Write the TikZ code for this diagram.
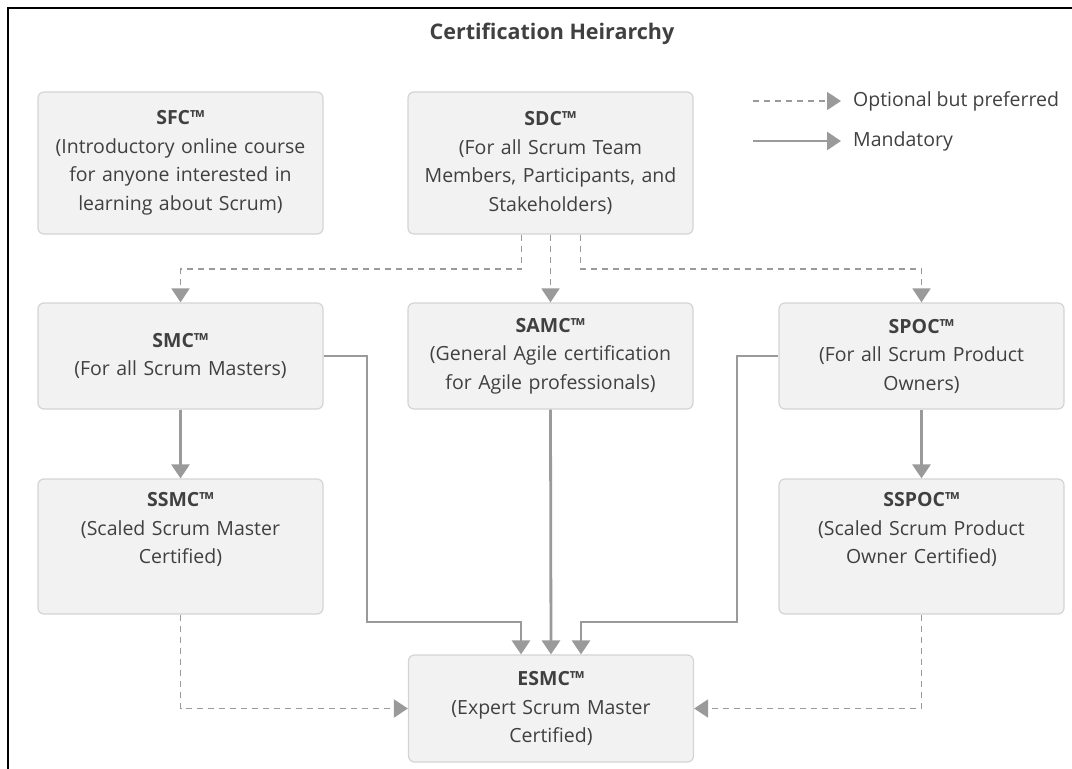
\documentclass[tikz,border=0pt]{standalone}
\usepackage{fontspec}
\setmainfont{Open Sans}
\usetikzlibrary{arrows.meta}
\definecolor{boxfill}{HTML}{F2F2F2}
\definecolor{boxline}{HTML}{D4D4D4}
\definecolor{linkgray}{HTML}{9A9A9A}
\definecolor{textgray}{HTML}{404040}

\begin{document}
\begin{tikzpicture}[x=1pt, y=-1pt]
    \tikzstyle{cert_style}=[rectangle, draw=boxline, line width=1.2pt, fill=boxfill, rounded corners=6pt, minimum width=285pt, text width=278pt, align=center, text=textgray, font=\fontsize{19.5}{28.5}\selectfont]
    \tikzstyle{must_style}=[draw=linkgray, line width=2.8pt, -{Triangle[width=18pt, length=14pt]}]
    \tikzstyle{opt_style}=[draw=linkgray, line width=1.8pt, dash pattern=on 6pt off 5pt, -{Triangle[width=18pt, length=14pt]}]
    \tikzstyle{legend_style}=[anchor=west, inner sep=0pt, text=textgray, font=\fontsize{19.5}{22}\selectfont]

    \useasboundingbox (0,0) rectangle (1072,769);
    \draw[line width=2pt] (8,769) -- (8,8) -- (1072,8);

    % title
    \node at (552, 34) [text=textgray, font=\bfseries\fontsize{21.5}{24}\selectfont] (title) {Certification Heirarchy};

    % legend
    \coordinate (opt_start) at (753, 101);
    \coordinate (opt_end) at (841, 101);
    \coordinate (must_start) at (753, 141);
    \coordinate (must_end) at (841, 141);
    \path[opt_style] (opt_start) -- (opt_end);
    \path[must_style] (must_start) -- (must_end);
    \node at (853, 101) [legend_style] (opt_text) {Optional but preferred};
    \node at (853, 141) [legend_style] (must_text) {Mandatory};

    % top row
    \node at (180.5, 163) [cert_style, minimum height=142pt] (sfc) {\textbf{SFC™}\\(Introductory online course\\for anyone interested in\\learning about Scrum)};
    \node at (550.5, 163) [cert_style, minimum height=142pt] (sdc) {\textbf{SDC™}\\(For all Scrum Team\\Members, Participants, and\\Stakeholders)};

    % middle row
    \node at (180.5, 356) [cert_style, minimum height=106pt] (smc) {\textbf{SMC™}\\(For all Scrum Masters)};
    \node at (550.5, 356) [cert_style, minimum height=106pt] (samc) {\textbf{SAMC™}\\(General Agile certification\\for Agile professionals)};
    \node at (921.5, 356) [cert_style, minimum height=106pt] (spoc) {\textbf{SPOC™}\\(For all Scrum Product\\Owners)};

    % scaled row
    \node at (180.5, 546.5) [cert_style, minimum height=135pt] (ssmc) {\textbf{SSMC™}\\(Scaled Scrum Master\\Certified)\\ \strut};
    \node at (921.5, 546.5) [cert_style, minimum height=135pt] (sspoc) {\textbf{SSPOC™}\\(Scaled Scrum Product\\Owner Certified)\\ \strut};

    % expert
    \node at (551, 708.5) [cert_style, minimum height=107pt] (esmc) {\textbf{ESMC™}\\(Expert Scrum Master\\Certified)};

    % connect: sdc -> middle row
    \path[opt_style] ([xshift=-29pt]sdc.south) -- ++(0,34) -| (smc.north);
    \path[opt_style] (sdc.south) -- (samc.north);
    \path[opt_style] ([xshift=30pt]sdc.south) -- ++(0,34) -| (spoc.north);

    % connect: middle row -> scaled row
    \path[must_style] (smc) -- (ssmc);
    \path[must_style] (spoc) -- (sspoc);

    % connect: middle row -> esmc
    \path[must_style] (smc.east) -| (367,622) -| ([xshift=-30pt]esmc.north);
    \path[must_style] (samc.south) -- (esmc.north);
    \path[must_style] (spoc.west) -| (737,622) -| ([xshift=30pt]esmc.north);

    % connect: scaled row -> esmc
    \path[opt_style] (ssmc.south) |- (esmc.west);
    \path[opt_style] (sspoc.south) |- (esmc.east);

\end{tikzpicture}
\end{document}
